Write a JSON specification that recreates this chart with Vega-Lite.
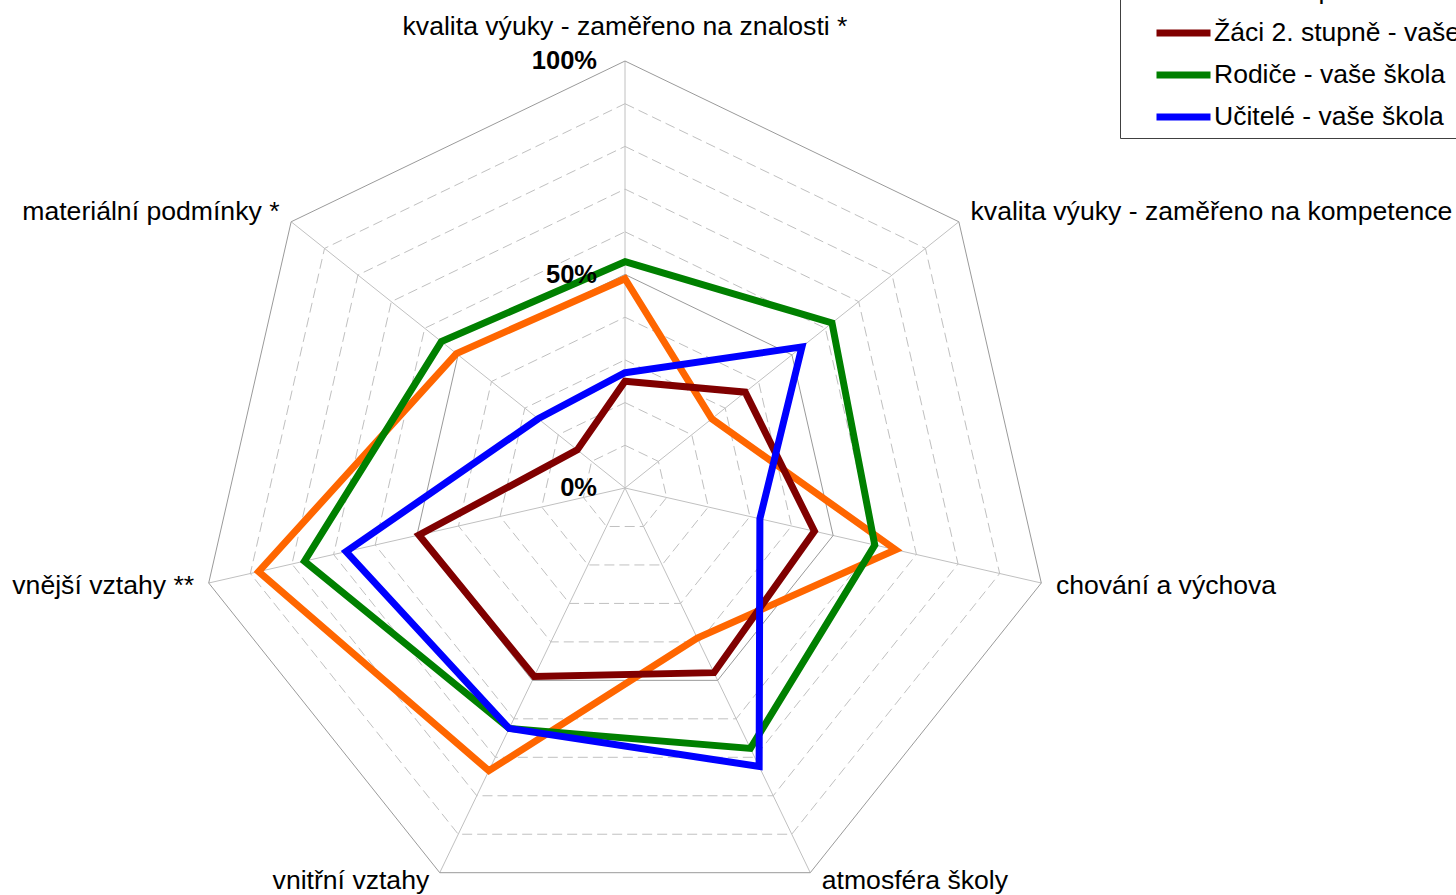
{
  "$schema": "https://vega.github.io/schema/vega-lite/v6.json",
  "width": 1456,
  "height": 895,
  "autosize": {"type": "none"},
  "padding": 0,
  "background": "white",
  "config": {"view": {"stroke": null}, "font": "Liberation Sans"},
  "datasets": {
    "series": [
      {"s": "Učitelé - průměr", "k": 0, "v": 49},
      {"s": "Učitelé - průměr", "k": 1, "v": 26},
      {"s": "Učitelé - průměr", "k": 2, "v": 65},
      {"s": "Učitelé - průměr", "k": 3, "v": 39},
      {"s": "Učitelé - průměr", "k": 4, "v": 73.5},
      {"s": "Učitelé - průměr", "k": 5, "v": 88},
      {"s": "Učitelé - průměr", "k": 6, "v": 50.5},
      {"s": "Žáci 2. stupně - vaše škola", "k": 0, "v": 25},
      {"s": "Žáci 2. stupně - vaše škola", "k": 1, "v": 36},
      {"s": "Žáci 2. stupně - vaše škola", "k": 2, "v": 45.5},
      {"s": "Žáci 2. stupně - vaše škola", "k": 3, "v": 48},
      {"s": "Žáci 2. stupně - vaše škola", "k": 4, "v": 49},
      {"s": "Žáci 2. stupně - vaše škola", "k": 5, "v": 49.5},
      {"s": "Žáci 2. stupně - vaše škola", "k": 6, "v": 14.3},
      {"s": "Rodiče - vaše škola", "k": 0, "v": 53},
      {"s": "Rodiče - vaše škola", "k": 1, "v": 62},
      {"s": "Rodiče - vaše škola", "k": 2, "v": 60},
      {"s": "Rodiče - vaše škola", "k": 3, "v": 67.7},
      {"s": "Rodiče - vaše škola", "k": 4, "v": 62.5},
      {"s": "Rodiče - vaše škola", "k": 5, "v": 77},
      {"s": "Rodiče - vaše škola", "k": 6, "v": 55},
      {"s": "Učitelé - vaše škola", "k": 0, "v": 27},
      {"s": "Učitelé - vaše škola", "k": 1, "v": 53},
      {"s": "Učitelé - vaše škola", "k": 2, "v": 32.4},
      {"s": "Učitelé - vaše škola", "k": 3, "v": 72.4},
      {"s": "Učitelé - vaše škola", "k": 4, "v": 62.5},
      {"s": "Učitelé - vaše škola", "k": 5, "v": 67},
      {"s": "Učitelé - vaše škola", "k": 6, "v": 26}
    ],
    "axes": [
      {"k": 0, "label": "kvalita výuky - zaměřeno na znalosti *"},
      {"k": 1, "label": "kvalita výuky - zaměřeno na kompetence"},
      {"k": 2, "label": "chování a výchova"},
      {"k": 3, "label": "atmosféra školy"},
      {"k": 4, "label": "vnitřní vztahy"},
      {"k": 5, "label": "vnější vztahy **"},
      {"k": 6, "label": "materiální podmínky *"}
    ],
    "rings": [
      {"level": 10, "style": "dash", "k": [0, 1, 2, 3, 4, 5, 6]},
      {"level": 20, "style": "dash", "k": [0, 1, 2, 3, 4, 5, 6]},
      {"level": 30, "style": "dash", "k": [0, 1, 2, 3, 4, 5, 6]},
      {"level": 40, "style": "dash", "k": [0, 1, 2, 3, 4, 5, 6]},
      {"level": 50, "style": "solid", "k": [0, 1, 2, 3, 4, 5, 6]},
      {"level": 60, "style": "dash", "k": [0, 1, 2, 3, 4, 5, 6]},
      {"level": 70, "style": "dash", "k": [0, 1, 2, 3, 4, 5, 6]},
      {"level": 80, "style": "dash", "k": [0, 1, 2, 3, 4, 5, 6]},
      {"level": 90, "style": "dash", "k": [0, 1, 2, 3, 4, 5, 6]},
      {"level": 100, "style": "solid", "k": [0, 1, 2, 3, 4, 5, 6]}
    ],
    "ticks": [
      {"v": 0, "t": "0%"},
      {"v": 50, "t": "50%"},
      {"v": 100, "t": "100%"}
    ]
  },
  "encoding": {
    "x": {"field": "x", "type": "quantitative", "scale": {"domain": [-146.37, 194.61], "nice": false, "zero": false}, "axis": null},
    "y": {"field": "y", "type": "quantitative", "scale": {"domain": [-95.32, 114.29], "nice": false, "zero": false}, "axis": null}
  },
  "layer": [
    {
      "data": {"name": "rings"},
      "transform": [
        {"flatten": ["k"]},
        {"filter": "datum.style == 'dash'"},
        {"calculate": "datum.level * sin(datum.k * 2 * PI / 7)", "as": "x"},
        {"calculate": "datum.level * cos(datum.k * 2 * PI / 7)", "as": "y"}
      ],
      "mark": {"type": "line", "interpolate": "linear-closed", "stroke": "#c0c0c0", "strokeWidth": 1, "strokeDash": [10, 5]},
      "encoding": {"detail": {"field": "level", "type": "nominal"}, "order": {"field": "k", "type": "quantitative"}}
    },
    {
      "data": {"name": "axes"},
      "transform": [
        {"calculate": "100 * sin(datum.k * 2 * PI / 7)", "as": "x2v"},
        {"calculate": "100 * cos(datum.k * 2 * PI / 7)", "as": "y2v"},
        {"calculate": "0", "as": "x"},
        {"calculate": "0", "as": "y"}
      ],
      "mark": {"type": "rule", "stroke": "#c0c0c0", "strokeWidth": 1},
      "encoding": {"x2": {"field": "x2v"}, "y2": {"field": "y2v"}}
    },
    {
      "data": {"name": "rings"},
      "transform": [
        {"flatten": ["k"]},
        {"filter": "datum.style == 'solid'"},
        {"calculate": "datum.level * sin(datum.k * 2 * PI / 7)", "as": "x"},
        {"calculate": "datum.level * cos(datum.k * 2 * PI / 7)", "as": "y"}
      ],
      "mark": {"type": "line", "interpolate": "linear-closed", "stroke": "#9a9a9a", "strokeWidth": 1},
      "encoding": {"detail": {"field": "level", "type": "nominal"}, "order": {"field": "k", "type": "quantitative"}}
    },
    {
      "data": {"name": "series"},
      "transform": [
        {"calculate": "datum.v * sin(datum.k * 2 * PI / 7)", "as": "x"},
        {"calculate": "datum.v * cos(datum.k * 2 * PI / 7)", "as": "y"}
      ],
      "mark": {"type": "line", "interpolate": "linear-closed", "strokeWidth": 7, "strokeJoin": "miter"},
      "encoding": {
        "order": {"field": "k", "type": "quantitative"},
        "color": {
          "field": "s",
          "type": "nominal",
          "scale": {
            "domain": ["Učitelé - průměr", "Žáci 2. stupně - vaše škola", "Rodiče - vaše škola", "Učitelé - vaše škola"],
            "range": ["#ff6600", "#800000", "#008000", "#0000ff"]
          },
          "legend": {
            "title": null,
            "orient": "none",
            "legendX": 1120,
            "legendY": -30,
            "symbolType": "stroke",
            "symbolSize": 2916,
            "symbolStrokeWidth": 7,
            "symbolOffset": 32,
            "labelFontSize": 26.5,
            "labelFont": "Liberation Sans",
            "labelColor": "#000000",
            "labelOffset": 0,
            "labelLimit": 0,
            "clipHeight": 40,
            "rowPadding": 2,
            "padding": 1,
            "strokeColor": "#404040",
            "fillColor": "white"
          }
        }
      }
    },
    {
      "data": {"name": "ticks"},
      "transform": [
        {"calculate": "0", "as": "x"},
        {"calculate": "datum.v", "as": "y"}
      ],
      "mark": {"type": "text", "align": "right", "baseline": "middle", "dx": -28, "fontSize": 25.5, "fontWeight": "bold", "font": "Liberation Sans", "color": "#000000"},
      "encoding": {"text": {"field": "t", "type": "nominal"}}
    },
    {
      "data": {"name": "axes"},
      "transform": [
        {"calculate": "103.5 * sin(datum.k * 2 * PI / 7)", "as": "x"},
        {"calculate": "103.5 * cos(datum.k * 2 * PI / 7)", "as": "y"},
        {"filter": "datum.k == 0"}
      ],
      "mark": {"type": "text", "align": "center", "baseline": "middle", "dy": -19, "fontSize": 26.6, "font": "Liberation Sans", "color": "#000000"},
      "encoding": {"text": {"field": "label", "type": "nominal"}}
    },
    {
      "data": {"name": "axes"},
      "transform": [
        {"calculate": "103.5 * sin(datum.k * 2 * PI / 7)", "as": "x"},
        {"calculate": "103.5 * cos(datum.k * 2 * PI / 7)", "as": "y"},
        {"filter": "datum.k == 1 || datum.k == 2"}
      ],
      "mark": {"type": "text", "align": "left", "baseline": "middle", "fontSize": 26.6, "font": "Liberation Sans", "color": "#000000"},
      "encoding": {"text": {"field": "label", "type": "nominal"}}
    },
    {
      "data": {"name": "axes"},
      "transform": [
        {"calculate": "103.5 * sin(datum.k * 2 * PI / 7)", "as": "x"},
        {"calculate": "103.5 * cos(datum.k * 2 * PI / 7)", "as": "y"},
        {"filter": "datum.k == 3"}
      ],
      "mark": {"type": "text", "align": "left", "baseline": "middle", "dx": 5, "dy": -5, "fontSize": 26.6, "font": "Liberation Sans", "color": "#000000"},
      "encoding": {"text": {"field": "label", "type": "nominal"}}
    },
    {
      "data": {"name": "axes"},
      "transform": [
        {"calculate": "103.5 * sin(datum.k * 2 * PI / 7)", "as": "x"},
        {"calculate": "103.5 * cos(datum.k * 2 * PI / 7)", "as": "y"},
        {"filter": "datum.k == 4"}
      ],
      "mark": {"type": "text", "align": "right", "baseline": "middle", "dx": -4, "dy": -5, "fontSize": 26.6, "font": "Liberation Sans", "color": "#000000"},
      "encoding": {"text": {"field": "label", "type": "nominal"}}
    },
    {
      "data": {"name": "axes"},
      "transform": [
        {"calculate": "103.5 * sin(datum.k * 2 * PI / 7)", "as": "x"},
        {"calculate": "103.5 * cos(datum.k * 2 * PI / 7)", "as": "y"},
        {"filter": "datum.k == 5 || datum.k == 6"}
      ],
      "mark": {"type": "text", "align": "right", "baseline": "middle", "fontSize": 26.6, "font": "Liberation Sans", "color": "#000000"},
      "encoding": {"text": {"field": "label", "type": "nominal"}}
    }
  ]
}
